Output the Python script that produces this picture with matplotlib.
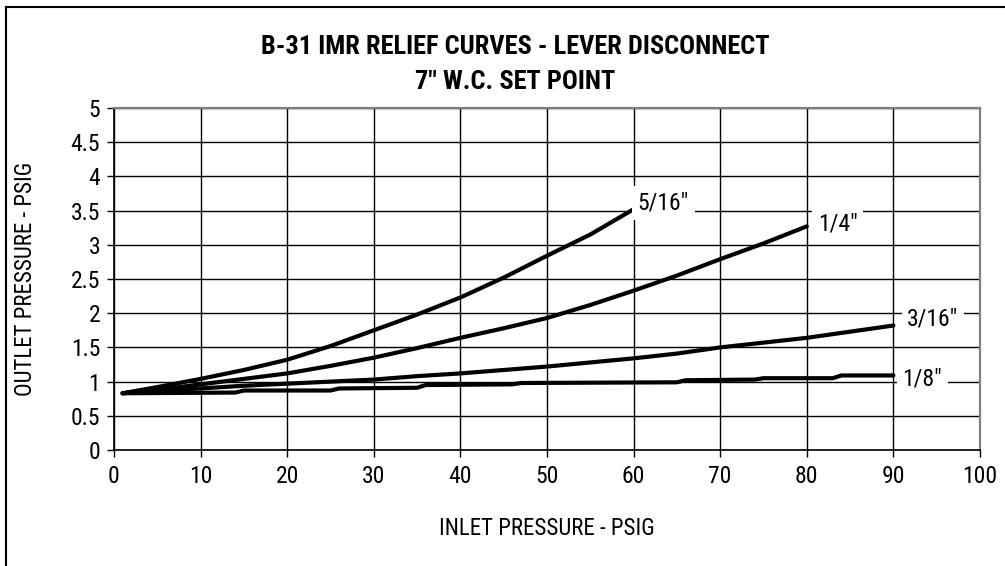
import matplotlib
matplotlib.use('Agg')
import matplotlib.pyplot as plt
from matplotlib.lines import Line2D

plt.rcParams['font.family'] = ['Liberation Sans Narrow', 'Roboto Condensed', 'Liberation Sans', 'DejaVu Sans']

# orifice sizes and their relief curves (inlet psig -> outlet psig)
labels = ['5/16"', '1/4"', '3/16"', '1/8"']

x_516 = [1, 5, 10, 15, 20, 25, 30, 35, 40, 45, 50, 55, 60]
y_516 = [0.83, 0.92, 1.04, 1.17, 1.32, 1.52, 1.75, 1.98, 2.23, 2.52, 2.84, 3.15, 3.52]

x_14 = [1, 5, 10, 15, 20, 25, 30, 35, 40, 45, 50, 55, 60, 65, 70, 75, 80]
y_14 = [0.83, 0.88, 0.96, 1.04, 1.12, 1.23, 1.35, 1.49, 1.64, 1.78, 1.93, 2.12, 2.33, 2.55, 2.79, 3.02, 3.27]

x_316 = [1, 5, 10, 15, 20, 25, 30, 35, 40, 45, 50, 55, 60, 65, 70, 75, 80, 85, 90]
y_316 = [0.83, 0.87, 0.90, 0.94, 0.97, 1.00, 1.03, 1.08, 1.12, 1.17, 1.22, 1.28, 1.34, 1.41, 1.50, 1.57, 1.64, 1.73, 1.82]

x_18 = [1, 14, 15, 25, 26, 35, 36, 46, 47, 65, 66, 74, 75, 83, 84, 90]
y_18 = [0.83, 0.84, 0.87, 0.87, 0.90, 0.91, 0.95, 0.96, 0.98, 0.99, 1.02, 1.03, 1.05, 1.05, 1.09, 1.09]

xs = [x_516, x_14, x_316, x_18]
ys = [y_516, y_14, y_316, y_18]
# where each label sits relative to the end of its curve (points)
label_offsets = [(3, 4.5), (8, 1.5), (10, 5), (6.5, -2.5)]

fig = plt.figure(figsize=(10.05, 5.66), dpi=100)
ax = fig.add_axes([0.1134, 0.2049, 0.8617, 0.6043])

for x, y, lab, off in zip(xs, ys, labels, label_offsets):
    ax.plot(x, y, color='black', lw=3.0, solid_capstyle='round', zorder=3)
    ax.annotate(lab, (x[-1], y[-1]), xytext=off, textcoords='offset points',
                fontsize=17, va='center', ha='left', annotation_clip=False,
                bbox=dict(facecolor='white', edgecolor='none', pad=4), zorder=4)

ax.set_xlim(0, 100)
ax.set_ylim(0, 5)
ax.set_xticks(range(0, 101, 10))
ax.set_yticks([i * 0.5 for i in range(11)])
ax.set_yticklabels(['0', '0.5', '1', '1.5', '2', '2.5', '3', '3.5', '4', '4.5', '5'])
ax.grid(True, color='black', lw=1.0, zorder=1)
ax.set_axisbelow(True)
ax.tick_params(labelsize=17, length=5, width=1.0, color='black')
ax.tick_params(axis='x', pad=6)
ax.tick_params(axis='y', pad=5)

for s in ['top', 'right']:
    ax.spines[s].set_color('#808080')
    ax.spines[s].set_linewidth(1.6)
for s in ['left', 'bottom']:
    ax.spines[s].set_color('black')
    ax.spines[s].set_linewidth(1.2)

ax.set_xlabel('INLET PRESSURE - PSIG', fontsize=16.5, labelpad=21)
ax.set_ylabel('OUTLET PRESSURE - PSIG', fontsize=16.5, labelpad=24)

fig.text(0.513, 0.917, 'B-31 IMR RELIEF CURVES - LEVER DISCONNECT', ha='center', va='center',
         fontsize=19, fontweight='bold')
fig.text(0.513, 0.855, '7" W.C. SET POINT', ha='center', va='center',
         fontsize=19, fontweight='bold')

# outer frame (only left and top edges visible)
fig.add_artist(Line2D([0.006, 0.006], [0, 0.988], color='black', lw=1.5))
fig.add_artist(Line2D([0.006, 1.0], [0.988, 0.988], color='black', lw=1.5))

fig.savefig('out.png', dpi=100)
